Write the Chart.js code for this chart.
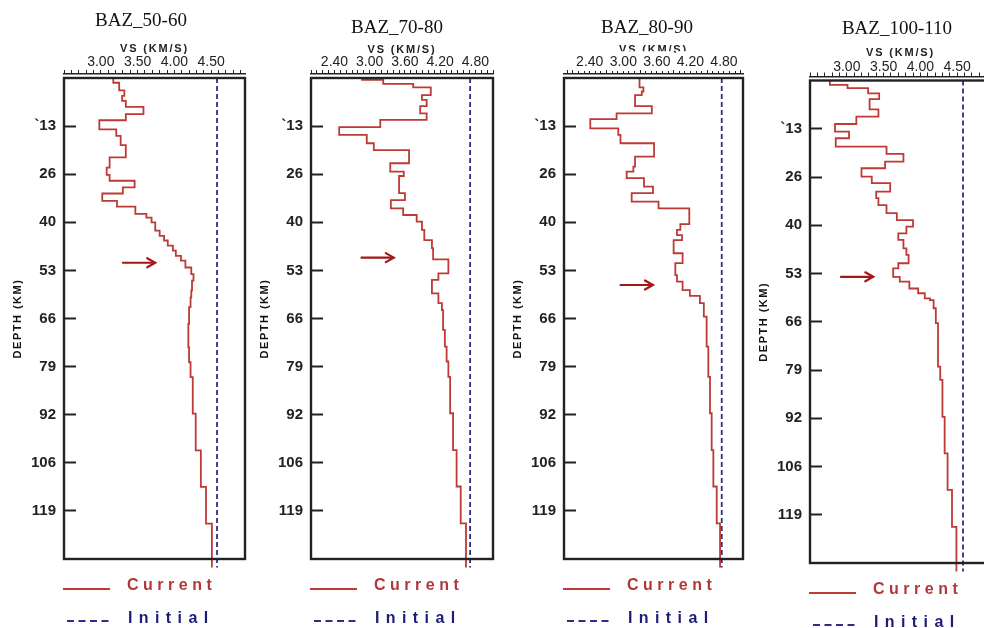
<!DOCTYPE html>
<html><head><meta charset="utf-8">
<script src="https://cdn.jsdelivr.net/npm/chart.js@4/dist/chart.umd.min.js"></script>
<style>
html,body{margin:0;padding:0;background:#fff;}
#wrap{position:relative;width:984px;height:628px;overflow:hidden;background:#fff;}
#wrap canvas{position:absolute;top:0;}
</style></head><body><div id="wrap"></div>
<script>
// ---------- data ----------
const panelTitles = ['BAZ_50-60', 'BAZ_70-80', 'BAZ_80-90', 'BAZ_100-110'];
const seriesLabels = ['Current', 'Initial'];
const depthTickValues = [13.2, 26.4, 39.6, 52.8, 66, 79.2, 92.4, 105.6, 118.8];
const depthTickLabels = ['`13', '26', '40', '53', '66', '79', '92', '106', '119'];
const vsTickValuesA = [3.0, 3.5, 4.0, 4.5];
const vsTickLabelsA = ['3.00', '3.50', '4.00', '4.50'];
const vsTickValuesB = [2.4, 3.0, 3.6, 4.2, 4.8];
const vsTickLabelsB = ['2.40', '3.00', '3.60', '4.20', '4.80'];
const vsMin = [2.5, 2.0, 1.94, 2.5];
const vsMax = [4.96, 5.1, 5.14, 4.96];
const depthMax = 132;
const profileEnd = 134.3;

const depth1 = [0, 1.3, 3.4, 4.9, 6.3, 7.9, 9.9, 11.6, 14.1, 15.9, 18.4, 21.8, 24.6, 26.6, 28.2, 30.0, 31.7, 33.7, 35.3, 37.3, 38.3, 39.6, 41.9, 43.3, 44.6, 46.0, 47.4, 48.8, 50.1, 52.0, 53.8, 55.6, 58.3, 60.2, 62.9, 67.5, 73.9, 78.0, 82.1, 92.1, 102.2, 112.2, 122.3];
const vs1 = [3.17, 3.25, 3.32, 3.29, 3.34, 3.58, 3.34, 2.98, 3.21, 3.27, 3.34, 3.12, 3.08, 3.12, 3.46, 3.30, 3.02, 3.22, 3.47, 3.62, 3.69, 3.74, 3.80, 3.86, 3.91, 3.98, 4.02, 4.09, 4.15, 4.23, 4.26, 4.24, 4.23, 4.22, 4.20, 4.19, 4.20, 4.22, 4.25, 4.29, 4.36, 4.43, 4.51];

const depth2 = [0, 0.5, 1.6, 2.6, 4.7, 6.0, 7.7, 9.7, 11.5, 13.5, 15.6, 17.9, 19.8, 23.4, 25.7, 26.9, 31.6, 33.5, 35.8, 37.6, 39.4, 41.7, 44.5, 46.7, 49.8, 53.6, 55.4, 59.1, 61.8, 63.7, 69.1, 73.7, 77.8, 82.0, 92.0, 102.1, 112.1, 122.2];
const vs2 = [2.87, 3.23, 3.74, 4.04, 3.89, 3.97, 3.86, 3.97, 3.18, 2.48, 2.95, 3.07, 3.67, 3.35, 3.58, 3.50, 3.60, 3.36, 3.57, 3.80, 3.89, 3.93, 4.06, 4.08, 4.34, 4.17, 4.06, 4.17, 4.23, 4.25, 4.28, 4.31, 4.34, 4.37, 4.42, 4.48, 4.55, 4.64];

const depth3 = [0, 2.6, 3.7, 4.7, 7.7, 9.7, 11.3, 13.8, 15.6, 17.9, 21.6, 24.3, 25.7, 27.5, 29.8, 31.6, 33.9, 35.8, 40.1, 41.7, 43.1, 44.5, 48.1, 50.8, 54.1, 55.9, 58.2, 59.8, 61.8, 65.5, 73.7, 82.0, 92.0, 102.1, 112.1, 122.2];
const vs3 = [3.29, 3.36, 3.33, 3.21, 3.51, 2.88, 2.41, 2.91, 2.95, 3.55, 3.21, 3.18, 3.06, 3.37, 3.53, 3.15, 3.63, 4.18, 4.02, 3.96, 4.05, 3.90, 4.06, 3.93, 3.96, 4.06, 4.19, 4.37, 4.44, 4.49, 4.52, 4.55, 4.58, 4.61, 4.67, 4.73];

const depth4 = [0, 1.2, 2.1, 3.5, 5.1, 7.9, 9.9, 11.9, 14.0, 15.8, 18.1, 20.1, 22.2, 24.0, 26.3, 28.1, 30.4, 32.2, 34.1, 36.3, 38.2, 40.0, 41.8, 43.6, 45.9, 47.7, 50.0, 51.4, 53.7, 55.0, 56.9, 58.2, 59.6, 60.1, 62.3, 66.4, 78.3, 81.9, 92.0, 102.0, 112.0, 122.1];
const vs4 = [2.77, 3.01, 3.29, 3.44, 3.31, 3.43, 3.13, 2.84, 3.03, 2.85, 3.54, 3.77, 3.52, 3.20, 3.34, 3.59, 3.40, 3.43, 3.54, 3.68, 3.90, 3.81, 3.70, 3.77, 3.81, 3.84, 3.70, 3.63, 3.72, 3.85, 3.97, 4.06, 4.13, 4.18, 4.21, 4.24, 4.27, 4.30, 4.33, 4.37, 4.43, 4.49];

const initialVs = [4.58, 4.71, 4.76, 4.58];
const arrowDepth = [50.7, 49.3, 56.8, 53.7];
const arrowFrom = [3.30, 2.86, 2.95, 2.92];
const arrowTo = [3.74, 3.41, 3.53, 3.36];

const depthSets = [depth1, depth2, depth3, depth4];
const vsSets = [vs1, vs2, vs3, vs4];
const majorVals = [vsTickValuesA, vsTickValuesB, vsTickValuesB, vsTickValuesA];
const majorLabels = [vsTickLabelsA, vsTickLabelsB, vsTickLabelsB, vsTickLabelsA];

// ---------- layout / style ----------
const layoutCfg = [
  {left: 0,   plotL: 64,  plotR: 245, top: 78,   bottom: 559, titleX: 141, titleBase: 26,   vsTitleY: 48.5, tickPad: -1, backdrop: false},
  {left: 247, plotL: 311, plotR: 493, top: 78,   bottom: 559, titleX: 397, titleBase: 32.5, vsTitleY: 50,   tickPad: -1, backdrop: false},
  {left: 500, plotL: 564, plotR: 743, top: 78,   bottom: 559, titleX: 647, titleBase: 32.5, vsTitleY: 50,   tickPad: -1, backdrop: true},
  {left: 746, plotL: 810, plotR: 991, top: 80.5, bottom: 563, titleX: 897, titleBase: 33.5, vsTitleY: 53,   tickPad: -3, backdrop: false}
];
const SANS = '"Liberation Sans", Arial, sans-serif';
const SERIF = '"Liberation Serif", "Times New Roman", serif';
const RED = '#bd3a36';
const BLUE = '#2e2e86';
const ARROW = '#a31818';
const INK = '#222';
const legendTextColors = ['#b23838', '#1d1d78'];

function spaced(scale, amount) {
  if (scale.$spaced) return;
  scale.$spaced = true;
  const orig = scale.drawTitle;
  scale.drawTitle = function () {
    const c = this.ctx; c.save(); c.letterSpacing = amount; orig.apply(this, arguments); c.restore();
  };
}
function minorTicks(min, max) {
  const out = [];
  for (let k = Math.ceil(min * 10 - 1e-6); k <= Math.floor(max * 10 + 1e-6); k++) out.push(k / 10);
  return out;
}
function majorIndex(v, majors) {
  for (let j = 0; j < majors.length; j++) if (Math.abs(v - majors[j]) < 1e-6) return j;
  return -1;
}

const decor = {
  id: 'decor',
  afterDraw(chart, args, o) {
    const ctx = chart.ctx, a = chart.chartArea;
    const xs = chart.scales.x, ys = chart.scales.y;
    ctx.save();
    // frame
    ctx.strokeStyle = INK; ctx.lineWidth = 2.4; ctx.setLineDash([]);
    ctx.strokeRect(a.left, a.top, a.right - a.left, a.bottom - a.top);
    // title
    ctx.fillStyle = '#111'; ctx.font = '19px ' + SERIF; ctx.textAlign = 'center'; ctx.textBaseline = 'alphabetic';
    ctx.fillText(o.title, o.titleX, o.titleBase);
    // arrow
    const y = ys.getPixelForValue(o.arrowDepth);
    const x1 = xs.getPixelForValue(o.arrowFrom), x2 = xs.getPixelForValue(o.arrowTo);
    ctx.strokeStyle = ARROW; ctx.lineWidth = 2.2; ctx.lineCap = 'round';
    ctx.beginPath(); ctx.moveTo(x1, y); ctx.lineTo(x2 - 1, y); ctx.stroke();
    ctx.beginPath(); ctx.moveTo(x2 - 8, y - 4.5); ctx.lineTo(x2, y); ctx.lineTo(x2 - 8, y + 4.5); ctx.stroke();
    // legend
    const ds = chart.data.datasets;
    const x0 = a.left;
    ctx.lineCap = 'butt';
    ctx.strokeStyle = ds[0].borderColor; ctx.lineWidth = 2.2;
    ctx.beginPath(); ctx.moveTo(x0 - 1, a.bottom + 30); ctx.lineTo(x0 + 46, a.bottom + 30); ctx.stroke();
    ctx.strokeStyle = ds[1].borderColor; ctx.lineWidth = 2; ctx.setLineDash([7, 4.5]);
    ctx.beginPath(); ctx.moveTo(x0 + 3, a.bottom + 62); ctx.lineTo(x0 + 46, a.bottom + 62); ctx.stroke();
    ctx.setLineDash([]);
    ctx.textAlign = 'left'; ctx.font = 'bold 16px ' + SANS;
    ctx.letterSpacing = '4.5px'; ctx.fillStyle = legendTextColors[0];
    ctx.fillText(ds[0].label, x0 + 63, a.bottom + 31);
    ctx.letterSpacing = '6.4px'; ctx.fillStyle = legendTextColors[1];
    ctx.fillText(ds[1].label, x0 + 64, a.bottom + 64);
    ctx.restore();
  }
};

const wrap = document.getElementById('wrap');
for (let i = 0; i < 4; i++) {
  const L = layoutCfg[i];
  const W = L.plotR - L.left + 16, H = 628;
  const cv = document.createElement('canvas');
  cv.width = W; cv.height = H;
  cv.style.left = L.left + 'px'; cv.style.width = W + 'px'; cv.style.height = H + 'px';
  wrap.appendChild(cv);

  const d = depthSets[i], v = vsSets[i];
  const pts = d.map((dd, j) => ({x: v[j], y: dd}));
  pts.push({x: v[v.length - 1], y: profileEnd});
  const majors = majorVals[i], mlabels = majorLabels[i];
  const minors = minorTicks(vsMin[i], vsMax[i]);

  new Chart(cv, {
    type: 'scatter',
    data: {datasets: [
      {label: seriesLabels[0], data: pts, showLine: true, stepped: 'after', borderColor: RED, backgroundColor: RED,
       borderWidth: 1.8, pointRadius: 0, pointHoverRadius: 0, clip: false, xAxisID: 'x', yAxisID: 'y'},
      {label: seriesLabels[1], data: [{x: initialVs[i], y: 0}, {x: initialVs[i], y: profileEnd}], showLine: true,
       borderColor: BLUE, backgroundColor: BLUE, borderWidth: 1.8, borderDash: [5, 3], pointRadius: 0, pointHoverRadius: 0,
       clip: false, xAxisID: 'x', yAxisID: 'y'}
    ]},
    options: {
      responsive: false, animation: false, devicePixelRatio: 1,
      layout: {padding: {left: 0, right: 16, top: 0, bottom: H - L.bottom}},
      plugins: {
        legend: {display: false}, tooltip: {enabled: false}, title: {display: false},
        decor: {title: panelTitles[i], titleX: L.titleX - L.left, titleBase: L.titleBase,
                arrowDepth: arrowDepth[i], arrowFrom: arrowFrom[i], arrowTo: arrowTo[i]}
      },
      scales: {
        x: {type: 'linear', position: 'top', weight: 0, min: vsMin[i], max: vsMax[i],
            ticks: {display: false}, grid: {display: false}, border: {display: false},
            afterFit: s => { s.height = 4; }},
        xr: {type: 'linear', position: 'top', weight: 1, min: vsMin[i], max: vsMax[i],
             afterBuildTicks: s => { s.ticks = minors.map(m => ({value: m})); },
             ticks: {autoSkip: false, maxRotation: 0, minRotation: 0, padding: L.tickPad,
                     font: {family: SANS, size: 14}, color: INK,
                     callback: (val) => { const k = majorIndex(val, majors); return k >= 0 ? mlabels[k] : ''; },
                     showLabelBackdrop: (c) => L.backdrop && majorIndex(c.tick.value, majors) >= 0,
                     backdropColor: '#fff', backdropPadding: {top: 3, bottom: 0, left: 1, right: 1}},
             grid: {drawOnChartArea: false, drawTicks: true, tickLength: 4, tickColor: INK, tickWidth: 1},
             border: {display: true, color: INK, width: 1.5},
             title: {display: true, text: 'VS (KM/S)', color: INK, font: {family: SANS, size: 11, weight: 'bold'},
                     padding: {top: L.vsTitleY - 6.6, bottom: 0}},
             afterFit: s => { s.height = L.top - 4; spaced(s, '1.8px'); }},
        y: {type: 'linear', position: 'left', reverse: true, min: 0, max: depthMax,
            afterBuildTicks: s => { s.ticks = depthTickValues.map(m => ({value: m})); },
            ticks: {autoSkip: false, padding: 20, font: {family: SANS, size: 15, weight: 'bold'}, color: INK,
                    callback: (val, idx) => depthTickLabels[idx]},
            grid: {drawOnChartArea: false, drawTicks: true, tickLength: -12, tickWidth: 2, tickColor: INK},
            border: {display: false},
            title: {display: true, text: 'DEPTH (KM)', color: '#111', font: {family: SANS, size: 11, weight: 'bold'},
                    padding: {top: 18 - 6.6, bottom: 0}},
            afterFit: s => { s.width = L.plotL - L.left; spaced(s, '1.5px'); }}
      }
    },
    plugins: [decor]
  });
}
</script>
</body></html>
